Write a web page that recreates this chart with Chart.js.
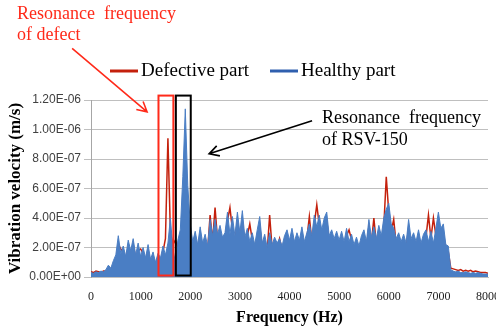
<!DOCTYPE html>
<html>
<head>
<meta charset="utf-8">
<script src="https://cdn.jsdelivr.net/npm/chart.js@4.4.1/dist/chart.umd.min.js"></script>
<style>
  html, body { margin: 0; padding: 0; background: #fff; }
</style>
</head>
<body>
<canvas id="spectrum" width="496" height="330"></canvas>
<script>
// frequency axis (Hz), one sample every 50 Hz
const frequencies = [
  0, 50, 100, 150, 200, 250, 300, 350, 400, 450,
  500, 550, 600, 650, 700, 750, 800, 850, 900, 950,
  1000, 1050, 1100, 1150, 1200, 1250, 1300, 1350, 1400, 1450,
  1500, 1550, 1600, 1650, 1700, 1750, 1800, 1850, 1900, 1950,
  2000, 2050, 2100, 2150, 2200, 2250, 2300, 2350, 2400, 2450,
  2500, 2550, 2600, 2650, 2700, 2750, 2800, 2850, 2900, 2950,
  3000, 3050, 3100, 3150, 3200, 3250, 3300, 3350, 3400, 3450,
  3500, 3550, 3600, 3650, 3700, 3750, 3800, 3850, 3900, 3950,
  4000, 4050, 4100, 4150, 4200, 4250, 4300, 4350, 4400, 4450,
  4500, 4550, 4600, 4650, 4700, 4750, 4800, 4850, 4900, 4950,
  5000, 5050, 5100, 5150, 5200, 5250, 5300, 5350, 5400, 5450,
  5500, 5550, 5600, 5650, 5700, 5750, 5800, 5850, 5900, 5950,
  6000, 6050, 6100, 6150, 6200, 6250, 6300, 6350, 6400, 6450,
  6500, 6550, 6600, 6650, 6700, 6750, 6800, 6850, 6900, 6950,
  7000, 7050, 7100, 7150, 7200, 7250, 7300, 7350, 7400, 7450,
  7500, 7550, 7600, 7650, 7700, 7750, 7800, 7850, 7900, 7950,
  8000
];

// vibration velocity, in units of 1e-7 m/s
const defectivePart = [
  0.35, 0.3, 0.4, 0.35, 0.3, 0.4, 0.4, 0.5, 0.5, 0.8,
  1.0, 2.2, 1.9, 1.7, 1.2, 2.0, 1.6, 2.2, 1.3, 1.8,
  1.9, 1.6, 1.1, 1.8, 1.0, 1.3, 0.8, 1.3, 1.1, 1.7,
  2.6, 9.4, 3.0, 2.2, 2.5, 2.0, 2.6, 3.5, 5.0, 3.0,
  2.4, 2.0, 2.6, 1.8, 2.9, 1.9, 2.4, 1.8, 4.2, 2.4,
  4.7, 2.5, 3.0, 2.3, 2.6, 3.8, 4.7, 3.2, 2.4, 3.8,
  2.6, 3.8, 2.3, 2.8, 3.6, 2.5, 1.9, 2.7, 3.4, 2.0,
  2.4, 1.7, 4.2, 1.9, 2.3, 2.0, 2.6, 1.8, 2.4, 2.7,
  2.1, 2.8, 2.0, 2.6, 2.1, 2.9, 2.0, 2.6, 4.1, 2.4,
  3.6, 4.9, 3.5, 2.8, 3.4, 3.8, 2.4, 2.7, 2.2, 2.6,
  2.1, 2.6, 2.0, 2.8, 3.2, 2.5, 1.9, 2.3, 1.8, 2.4,
  2.7, 2.0, 3.4, 2.3, 4.0, 2.2, 3.0, 2.4, 3.4, 6.8,
  4.4, 3.1, 3.9, 2.2, 2.6, 2.0, 2.5, 2.0, 3.3, 2.2,
  2.6, 2.0, 2.8, 1.9, 2.5, 2.7, 4.2, 2.6, 4.0, 2.8,
  3.7, 2.8, 3.0, 1.8, 1.7, 0.6, 0.55, 0.5, 0.45, 0.5,
  0.4, 0.45, 0.4, 0.45, 0.35, 0.4, 0.35, 0.3, 0.3, 0.3,
  0.25
];

const healthyPart = [
  0.3, 0.25, 0.35, 0.3, 0.4, 0.35, 0.5, 0.8, 0.6, 1.1,
  1.5, 2.8, 1.6, 2.1, 1.4, 2.5, 1.8, 2.6, 1.5, 2.3,
  1.4, 2.0, 1.3, 2.2, 1.2, 1.7, 1.0, 1.6, 1.3, 2.1,
  1.5, 2.3, 4.0, 1.9, 1.0, 2.5, 3.2, 6.8, 11.4, 6.2,
  3.6, 2.4, 3.1, 2.2, 3.4, 2.3, 2.9, 2.1, 3.9, 2.8,
  3.9, 2.9, 3.5, 2.7, 3.0, 4.4, 2.9, 4.1, 2.8, 4.4,
  3.0, 4.5, 2.7, 3.3, 2.4, 3.0, 2.2, 3.2, 4.1, 2.3,
  2.9, 2.0, 3.0, 2.2, 2.7, 2.3, 2.6, 2.1, 2.8, 3.2,
  2.5, 3.3, 2.4, 3.0, 2.5, 3.4, 2.4, 3.0, 3.6, 2.8,
  4.2, 3.4, 4.2, 3.2, 4.0, 4.4, 2.8, 3.2, 2.6, 3.1,
  2.5, 3.1, 2.4, 3.3, 2.4, 2.9, 2.2, 2.7, 2.1, 2.8,
  3.2, 2.4, 3.9, 2.7, 3.4, 2.6, 3.5, 2.8, 4.0, 4.6,
  5.0, 3.6, 3.3, 2.6, 3.0, 2.4, 2.9, 2.3, 3.9, 2.6,
  3.0, 2.4, 3.2, 2.3, 2.9, 3.2, 2.4, 3.1, 2.3, 3.3,
  4.4, 3.3, 3.6, 2.2, 2.1, 0.5, 0.4, 0.35, 0.4, 0.3,
  0.3, 0.35, 0.3, 0.25, 0.3, 0.25, 0.3, 0.25, 0.2, 0.2,
  0.2
];

const yTickValues = [0, 2, 4, 6, 8, 10, 12];
const yTickLabels = ['0.00E+00', '2.00E-07', '4.00E-07', '6.00E-07', '8.00E-07', '1.00E-06', '1.20E-06'];
const xTickLabels = ['0', '1000', '2000', '3000', '4000', '5000', '6000', '7000', '8000'];

const RED = '#c4200c';
const BLUE = '#4a7ec4';
const NOTE_RED = '#ff2a1a';

function drawArrow(ctx, x1, y1, x2, y2, color) {
    const a = Math.atan2(y2 - y1, x2 - x1);
    const len = 11;
    ctx.strokeStyle = color;
    ctx.lineWidth = 1.6;
    ctx.beginPath();
    ctx.moveTo(x1, y1);
    ctx.lineTo(x2, y2);
    ctx.moveTo(x2 - len * Math.cos(a - 0.5), y2 - len * Math.sin(a - 0.5));
    ctx.lineTo(x2, y2);
    ctx.lineTo(x2 - len * Math.cos(a + 0.5), y2 - len * Math.sin(a + 0.5));
    ctx.stroke();
}

// boxes, arrows, notes and the legend
const overlay = {
    id: 'overlay',
    afterDatasetsDraw(chart) {
        const { ctx, scales: { x, y } } = chart;
        ctx.save();
        ctx.lineWidth = 2;
        // resonance of the defect
        ctx.strokeStyle = NOTE_RED;
        ctx.strokeRect(x.getPixelForValue(1360), y.getPixelForValue(12.3),
            x.getPixelForValue(1660) - x.getPixelForValue(1360), y.getPixelForValue(0.1) - y.getPixelForValue(12.3));
        // resonance of RSV-150
        ctx.strokeStyle = '#000';
        ctx.strokeRect(x.getPixelForValue(1710), y.getPixelForValue(12.3),
            x.getPixelForValue(2010) - x.getPixelForValue(1710), y.getPixelForValue(0.1) - y.getPixelForValue(12.3));

        drawArrow(ctx, x.getPixelForValue(-380), y.getPixelForValue(15.5),
            x.getPixelForValue(1130), y.getPixelForValue(11.2), NOTE_RED);
        drawArrow(ctx, x.getPixelForValue(4455), y.getPixelForValue(10.6),
            x.getPixelForValue(2380), y.getPixelForValue(8.35), '#000');
        ctx.restore();
    },
    afterDraw(chart) {
        const ctx = chart.ctx;
        ctx.save();
        ctx.textBaseline = 'alphabetic';
        ctx.font = '18px "Liberation Serif"';
        ctx.fillStyle = NOTE_RED;
        ctx.fillText('Resonance  frequency', 17, 19);
        ctx.fillText('of defect', 17, 40);
        ctx.fillStyle = '#000';
        ctx.fillText('Resonance  frequency', 322, 123);
        ctx.fillText('of RSV-150', 322, 145);

        // legend
        ctx.font = '19px "Liberation Serif"';
        const items = [
            { label: chart.data.datasets[0].label, color: RED, x: 110 },
            { label: chart.data.datasets[1].label, color: '#2f5fae', x: 270 }
        ];
        items.forEach(it => {
            ctx.strokeStyle = it.color;
            ctx.lineWidth = 3;
            ctx.beginPath();
            ctx.moveTo(it.x, 71);
            ctx.lineTo(it.x + 28, 71);
            ctx.stroke();
            ctx.fillStyle = '#000';
            ctx.fillText(it.label, it.x + 31, 76);
        });
        ctx.restore();
    }
};

const ctx = document.getElementById('spectrum').getContext('2d');
const chart = new Chart(ctx, {
    type: 'line',
    data: {
        datasets: [{
            label: 'Defective part',
            data: frequencies.map((f, i) => ({ x: f, y: defectivePart[i] })),
            borderColor: RED,
            borderWidth: 1.5,
            pointRadius: 0,
            fill: false,
            tension: 0,
            order: 1
        }, {
            label: 'Healthy part',
            data: frequencies.map((f, i) => ({ x: f, y: healthyPart[i] })),
            borderColor: BLUE,
            backgroundColor: BLUE,
            borderWidth: 1,
            pointRadius: 0,
            fill: 'origin',
            tension: 0,
            order: 0
        }]
    },
    options: {
        responsive: false,
        animation: false,
        layout: { padding: { top: 100, right: 8, left: 0, bottom: 0 } },
        plugins: {
            legend: { display: false },
            tooltip: { enabled: false }
        },
        scales: {
            x: {
                type: 'linear',
                min: 0,
                max: 8000,
                grid: { display: false },
                border: { display: true, color: '#bfbfbf' },
                ticks: {
                    stepSize: 1000,
                    maxRotation: 0,
                    padding: 5,
                    color: '#222',
                    font: { family: 'Liberation Serif', size: 12 },
                    callback: (v) => xTickLabels[v / 1000]
                },
                title: {
                    display: true,
                    text: 'Frequency (Hz)',
                    color: '#000',
                    font: { family: 'Liberation Serif', size: 16, weight: 'bold' },
                    padding: { top: 0, bottom: 3 }
                },
                afterFit(scale) {
                    scale.height = 53;
                    scale.paddingRight = 0;
                }
            },
            y: {
                min: 0,
                max: 12,
                afterBuildTicks(scale) {
                    scale.ticks = yTickValues.map(v => ({ value: v }));
                },
                grid: { color: '#bfbfbf', tickLength: 7 },
                border: { display: true, color: '#a6a6a6' },
                ticks: {
                    padding: 3,
                    color: '#404040',
                    font: { family: 'Liberation Sans', size: 12 },
                    callback: (v) => yTickLabels[yTickValues.indexOf(v)]
                },
                title: {
                    display: true,
                    text: 'Vibration velocity (m/s)',
                    color: '#000',
                    font: { family: 'Liberation Serif', size: 17, weight: 'bold' },
                    padding: { top: 5, bottom: 0 }
                },
                afterFit(scale) {
                    scale.width = 91;
                }
            }
        }
    },
    plugins: [overlay]
});
</script>
</body>
</html>
